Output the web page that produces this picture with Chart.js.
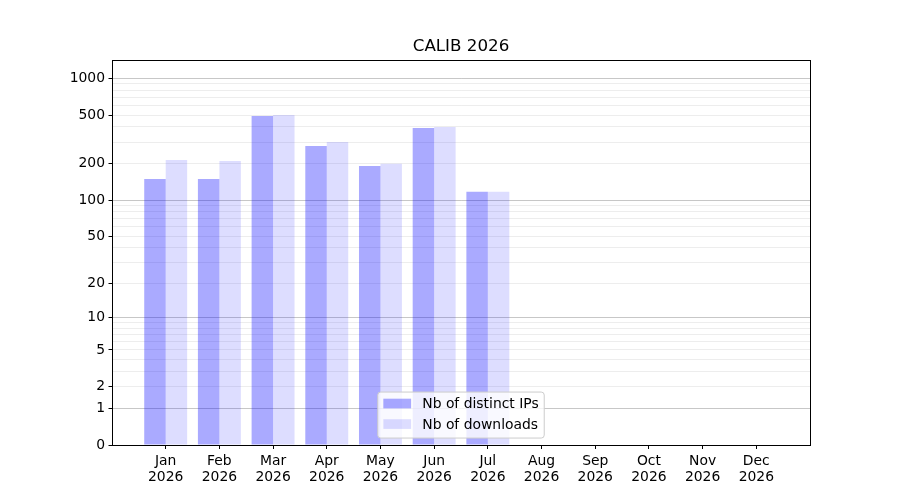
<!DOCTYPE html>
<html lang="en">

<head>
    <meta charset="UTF-8">
    <title>CALIB 2026</title>
    <script src="https://cdn.jsdelivr.net/npm/chart.js"></script>
    <style>
        html, body {
            margin: 0;
            padding: 0;
            background: #fff;
        }

        .chart-box {
            position: relative;
            width: 900px;
            height: 500px;
        }
    </style>
</head>

<body>
    <div class="chart-box">
        <canvas id="stats" width="900" height="500"></canvas>
    </div>
    <script>
        // values
        const months = ['Jan', 'Feb', 'Mar', 'Apr', 'May', 'Jun', 'Jul', 'Aug', 'Sep', 'Oct', 'Nov', 'Dec'];
        const year = '2026';
        const distinctIps = [149, 149, 491, 279, 191, 392, 117, 0, 0, 0, 0, 0];
        const downloads = [214, 210, 501, 301, 199, 399, 117, 0, 0, 0, 0, 0];
        const yLabelled = [0, 1, 2, 5, 10, 20, 50, 100, 200, 500, 1000];
        const yDecades = [1, 10, 100, 1000];
        const yMinor = [3, 4, 6, 7, 8, 9, 30, 40, 60, 70, 80, 90, 300, 400, 600, 700, 800, 900];
        const yMax = 1413;

        const FS = 13.9;
        const FONT = 'DejaVu Sans';

        // y = log10(1 + v) axis, like the one in the picture
        class Log1pScale extends Chart.LinearScale {
            configure() {
                super.configure();
                this._t0 = Math.log10(1 + this.min);
                this._tRange = Math.log10(1 + this.max) - this._t0;
            }
            buildTicks() {
                return yLabelled.concat(yMinor).sort((a, b) => a - b).map(v => ({ value: v }));
            }
            getPixelForValue(value) {
                return this.getPixelForDecimal((Math.log10(1 + value) - this._t0) / this._tRange);
            }
            getValueForPixel(pixel) {
                return Math.pow(10, this._t0 + this.getDecimalForPixel(pixel) * this._tRange) - 1;
            }
        }
        Log1pScale.id = 'log1p';
        Log1pScale.defaults = Chart.LinearScale.defaults;
        Chart.register(Log1pScale);

        const framePlugin = {
            id: 'frame',
            afterDraw(chart) {
                const { ctx, chartArea: a } = chart;
                ctx.save();
                ctx.strokeStyle = '#000';
                ctx.lineWidth = 1;
                ctx.strokeRect(Math.round(a.left) + 0.5, Math.round(a.top) + 0.5,
                    Math.round(a.right - a.left), Math.round(a.bottom - a.top));

                // title
                ctx.fillStyle = '#000';
                ctx.font = `16.7px "${FONT}"`;
                ctx.textAlign = 'center';
                ctx.textBaseline = 'alphabetic';
                ctx.fillText('CALIB 2026', (a.left + a.right) / 2, 51);

                // legend, lower center
                ctx.font = `${FS}px "${FONT}"`;
                const items = chart.data.datasets;
                const textW = Math.max(...items.map(d => ctx.measureText(d.label).width));
                const handleW = 2 * FS, handleH = 0.7 * FS, pad = 0.4 * FS, gap = 0.8 * FS, row = 20.5;
                const w = pad + handleW + gap + textW + pad;
                const h = 46;
                const x = (a.left + a.right) / 2 - w / 2;
                const y = a.bottom - 0.5 * FS - h;
                ctx.beginPath();
                ctx.roundRect(x, y, w, h, 3);
                ctx.fillStyle = 'rgba(255,255,255,0.8)';
                ctx.fill();
                ctx.strokeStyle = '#cccccc';
                ctx.stroke();
                items.forEach((d, i) => {
                    const cy = y + 11.5 + i * row;
                    ctx.fillStyle = d.backgroundColor;
                    ctx.fillRect(x + pad, cy - handleH / 2, handleW, handleH);
                    ctx.fillStyle = '#000';
                    ctx.textAlign = 'left';
                    ctx.textBaseline = 'middle';
                    ctx.fillText(d.label, x + pad + handleW + gap, cy + 1);
                });
                ctx.restore();
            }
        };

        new Chart(document.getElementById('stats'), {
            type: 'bar',
            data: {
                datasets: [{
                    label: 'Nb of distinct IPs',
                    data: distinctIps.map((v, i) => ({ x: i, y: v })),
                    backgroundColor: 'rgba(0,0,255,0.333)'
                }, {
                    label: 'Nb of downloads',
                    data: downloads.map((v, i) => ({ x: i, y: v })),
                    backgroundColor: 'rgba(0,0,255,0.133)'
                }]
            },
            options: {
                responsive: false,
                animation: false,
                devicePixelRatio: 1,
                layout: { padding: { left: 0, right: 90, top: 60, bottom: 0 } },
                datasets: { bar: { categoryPercentage: 0.8, barPercentage: 1.0, borderWidth: 0 } },
                plugins: {
                    legend: { display: false },
                    title: { display: false },
                    tooltip: { enabled: false }
                },
                scales: {
                    x: {
                        type: 'linear',
                        min: -1,
                        max: 12,
                        offset: false,
                        afterBuildTicks: s => { s.ticks = months.map((m, i) => ({ value: i })); },
                        afterFit: s => { s.height = 55; },
                        ticks: {
                            autoSkip: false,
                            maxRotation: 0,
                            padding: 4.5,
                            color: '#000',
                            font: { family: FONT, size: FS, lineHeight: 1.15 },
                            callback: v => [months[v], year]
                        },
                        grid: { offset: false, drawOnChartArea: false, tickLength: 4, tickColor: '#000' },
                        border: { display: true, color: '#000', width: 1 }
                    },
                    y: {
                        type: 'log1p',
                        min: 0,
                        max: yMax,
                        afterFit: s => { s.width = 112; },
                        ticks: {
                            autoSkip: false,
                            padding: 3.5,
                            color: '#000',
                            font: { family: FONT, size: FS },
                            callback: v => yLabelled.includes(v) ? String(v) : ''
                        },
                        grid: {
                            tickLength: 3.5,
                            color: c => yDecades.includes(c.tick.value) ? 'rgba(0,0,0,0.22)' : 'rgba(0,0,0,0.07)',
                            tickColor: c => yLabelled.includes(c.tick.value) ? '#000' : 'rgba(0,0,0,0)'
                        },
                        border: { display: true, color: '#000', width: 1 }
                    }
                }
            },
            plugins: [framePlugin]
        });
    </script>
</body>

</html>
